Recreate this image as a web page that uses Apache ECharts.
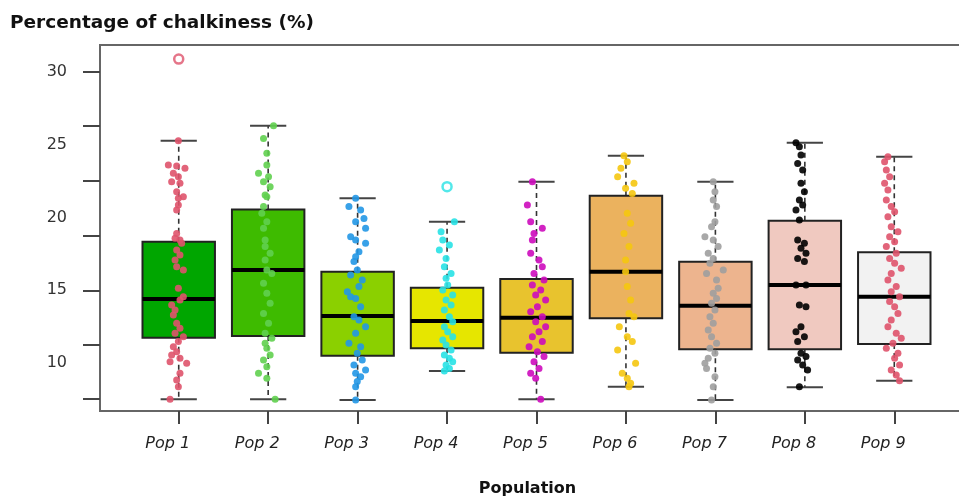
<!DOCTYPE html>
<html>
<head>
<meta charset="utf-8">
<script src="https://cdn.jsdelivr.net/npm/echarts@6/dist/echarts.min.js"></script>
<style>html,body{margin:0;padding:0;background:#fff;}#c{width:959px;height:496px;}</style>
</head>
<body>
<div id="c"></div>
<script>
// ---- data ----
const categories = ['Pop 1','Pop 2','Pop 3','Pop 4','Pop 5','Pop 6','Pop 7','Pop 8','Pop 9'];
const whiskerLow  = [7.50, 7.50, 7.46, 9.45, 7.50, 8.37, 7.46, 8.33, 8.78];
const q1          = [11.74, 11.86, 10.50, 11.01, 10.71, 13.07, 10.94, 10.94, 11.31];
const medians     = [14.40, 16.39, 13.23, 12.89, 13.11, 16.28, 13.94, 15.36, 14.56];
const q3          = [18.34, 20.56, 16.28, 15.18, 15.77, 21.50, 16.96, 19.78, 17.61];
const whiskerHigh = [25.28, 26.31, 21.32, 19.71, 22.46, 24.25, 22.46, 25.14, 24.18];
const outliers = [[0, 30.89], [3, 22.12]]; // [category index, value]
const yTickValues = [7.53, 11.24, 14.95, 18.73, 22.51, 26.29, 30];
const yLabelValues = [10, 15, 20, 25, 30];

// jittered observations: [value, horizontal jitter in category units]
const pop1 = [[25.28,-0.004],[23.61,-0.116],[23.54,-0.023],[23.38,0.07],[23.04,-0.06],[22.81,-0.004],[22.46,-0.079],[22.35,0.014],[21.78,-0.023],[21.43,0.052],[21.32,-0.004],[20.86,-0.004],[20.52,-0.023],[18.91,-0.023],[18.57,-0.041],[18.45,0.014],[18.23,0.033],[17.77,-0.023],[17.42,0.014],[17.08,-0.041],[16.62,-0.023],[16.39,0.052],[15.13,-0.004],[14.56,0.052],[14.33,0.014],[13.99,-0.079],[13.64,-0.041],[13.30,-0.06],[12.73,-0.023],[12.38,0.014],[12.04,-0.041],[11.81,0.052],[11.47,-0.004],[11.12,-0.06],[10.78,-0.023],[10.55,-0.079],[10.32,0.014],[10.09,-0.097],[9.98,0.089],[9.29,0.014],[8.83,-0.023],[8.37,-0.004],[7.50,-0.097]];
const pop2 = [[26.31,0.06],[25.44,-0.052],[24.41,-0.015],[23.61,-0.015],[23.04,-0.108],[22.81,0.004],[22.46,-0.052],[22.12,0.022],[21.55,-0.034],[21.43,-0.015],[20.75,-0.052],[20.29,-0.071],[19.71,-0.015],[19.26,-0.052],[18.45,-0.034],[18.00,-0.034],[17.54,0.022],[17.08,-0.034],[16.39,-0.015],[16.16,0.041],[15.48,-0.052],[14.79,-0.015],[14.10,0.022],[13.41,-0.052],[12.73,0.004],[12.04,-0.034],[11.70,0.041],[11.35,-0.034],[11.01,-0.015],[10.55,0.022],[10.21,-0.052],[9.75,-0.015],[9.29,-0.108],[8.95,-0.015],[7.50,0.078]];
const pop3 = [[21.32,-0.022],[20.75,-0.097],[20.52,0.034],[19.94,0.071],[19.71,-0.022],[19.26,0.089],[18.68,-0.078],[18.45,-0.022],[18.23,0.089],[17.65,0.015],[17.31,-0.022],[16.97,-0.041],[16.39,-0.004],[16.05,-0.078],[15.71,0.052],[15.25,0.015],[14.90,-0.115],[14.56,-0.078],[14.44,-0.022],[13.87,0.034],[13.18,-0.041],[12.96,0.015],[12.50,0.089],[12.04,-0.022],[11.35,-0.097],[11.12,0.034],[10.67,-0.004],[10.21,0.052],[9.86,-0.041],[9.52,0.089],[9.29,-0.022],[9.06,0.034],[8.72,-0.004],[8.37,-0.022],[7.46,-0.022]];
const pop4 = [[19.71,0.082],[19.03,-0.067],[18.45,-0.048],[18.11,0.026],[17.77,-0.086],[17.19,-0.011],[16.62,-0.03],[16.16,0.045],[15.82,-0.011],[15.36,0.007],[15.02,-0.048],[14.67,0.063],[14.33,-0.011],[13.99,0.045],[13.64,-0.03],[13.18,0.026],[12.84,0.063],[12.50,-0.03],[12.15,0.007],[11.81,0.063],[11.58,-0.048],[11.24,-0.011],[10.89,0.045],[10.55,-0.03],[10.32,0.026],[10.09,0.063],[9.86,-0.011],[9.63,0.026],[9.45,-0.03]];
const pop5 = [[22.46,-0.046],[20.86,-0.102],[19.71,-0.065],[19.26,0.065],[18.91,-0.028],[18.45,-0.046],[17.54,-0.065],[17.08,0.028],[16.62,0.065],[16.16,-0.028],[15.71,0.084],[15.36,-0.046],[15.02,0.047],[14.67,-0.009],[14.33,0.102],[13.87,0.01],[13.53,-0.065],[13.18,0.065],[12.84,-0.009],[12.50,0.102],[12.15,0.028],[11.81,-0.046],[11.47,0.065],[11.12,-0.083],[10.78,0.01],[10.44,0.084],[10.09,-0.028],[9.63,0.028],[9.29,-0.065],[8.95,-0.009],[7.50,0.047]];
const pop6 = [[24.25,-0.022],[23.84,0.015],[23.38,-0.056],[22.81,-0.093],[22.35,0.09],[22.01,-0.004],[21.66,0.071],[20.29,0.015],[19.60,0.052],[18.91,-0.022],[18.00,0.034],[17.08,-0.004],[16.28,-0.004],[15.25,0.015],[14.33,0.052],[13.41,0.034],[13.18,0.09],[12.50,-0.074],[11.81,0.015],[11.47,0.071],[10.89,-0.093],[9.98,0.108],[9.29,-0.041],[8.95,0.015],[8.60,0.052],[8.37,0.034]];
const pop7 = [[22.46,-0.024],[21.78,-0.005],[21.20,-0.024],[20.75,0.013],[19.71,-0.005],[19.37,-0.043],[18.68,-0.117],[18.45,-0.024],[18.00,0.031],[17.54,-0.08],[17.19,-0.024],[16.85,-0.061],[16.39,0.088],[16.16,-0.099],[15.71,0.013],[15.13,0.031],[14.79,-0.024],[14.44,0.013],[14.10,-0.043],[13.64,-0.005],[13.18,-0.061],[12.73,-0.024],[12.27,-0.08],[11.81,-0.043],[11.35,0.013],[11.01,-0.061],[10.67,-0.005],[10.32,-0.08],[9.98,-0.117],[9.63,-0.099],[9.06,-0.005],[8.37,-0.024],[7.46,-0.043]];
const pop8 = [[25.14,-0.099],[24.87,-0.061],[24.30,-0.043],[23.72,-0.08],[23.27,-0.024],[22.35,-0.043],[21.78,-0.005],[21.20,-0.061],[20.86,-0.024],[20.52,-0.099],[19.83,-0.061],[18.45,-0.08],[18.23,-0.005],[17.88,-0.043],[17.54,0.013],[17.19,-0.08],[16.97,-0.005],[15.36,-0.099],[15.36,0.013],[13.99,-0.061],[13.87,0.013],[12.50,-0.043],[12.15,-0.099],[11.81,-0.005],[11.47,-0.08],[10.67,-0.043],[10.44,0.013],[10.21,-0.08],[9.86,-0.024],[9.52,0.031],[8.37,-0.061]];
const pop9 = [[24.18,-0.071],[23.84,-0.108],[23.27,-0.089],[22.81,-0.052],[22.35,-0.108],[21.89,-0.071],[21.20,-0.089],[20.75,-0.034],[20.40,0.004],[20.06,-0.071],[19.37,-0.034],[19.03,0.041],[18.68,-0.052],[18.34,0.004],[18.00,-0.089],[17.54,0.022],[17.19,-0.052],[16.85,0.004],[16.51,0.078],[16.16,-0.034],[15.71,-0.071],[15.25,0.022],[14.90,-0.034],[14.56,0.059],[14.22,-0.052],[13.87,0.004],[13.41,0.041],[12.96,-0.034],[12.50,-0.071],[12.04,0.022],[11.70,0.078],[11.35,-0.015],[11.01,-0.089],[10.67,0.041],[10.32,0.004],[9.86,0.059],[9.52,-0.034],[9.17,0.022],[8.78,0.059]];
const popPoints = [pop1, pop2, pop3, pop4, pop5, pop6, pop7, pop8, pop9];

// ---- styling ----
const boxColors = ['#00A600','#3EBB00','#8BD000','#E6E600','#E8C32E','#EBB25E','#EDB48E','#F0C9C0','#F2F2F2'];
const pointColors = ['#DF536B','#61D04F','#2297E6','#28E2E5','#CD0BBC','#F5C710','#9E9E9E','#000000','#DF536B'];
const yMin = 6.70, yMax = 31.86;
const font = 'DejaVu Sans';

const chart = echarts.init(document.getElementById('c'), null, {renderer: 'canvas'});

const boxData = categories.map((c, i) => [i, whiskerLow[i], q1[i], medians[i], q3[i], whiskerHigh[i]]);

const series = [{
  type: 'custom',
  xAxisIndex: 1, yAxisIndex: 1,
  z: 2,
  data: boxData,
  renderItem: function (params, api) {
    const i = api.value(0);
    const lo = api.coord([i, api.value(1)]);
    const b = api.coord([i, api.value(2)]);
    const m = api.coord([i, api.value(3)]);
    const t = api.coord([i, api.value(4)]);
    const hi = api.coord([i, api.value(5)]);
    const band = api.size([1, 0])[0];
    const w = band * 0.81;
    const x = lo[0];
    const dash = {stroke: '#333', lineWidth: 1.6, lineDash: [5, 4]};
    const cap = {stroke: '#444', lineWidth: 2};
    return {type: 'group', children: [
      {type: 'line', shape: {x1: x, y1: b[1], x2: x, y2: lo[1]}, style: dash},
      {type: 'line', shape: {x1: x, y1: t[1], x2: x, y2: hi[1]}, style: dash},
      {type: 'line', shape: {x1: x - w / 4, y1: lo[1], x2: x + w / 4, y2: lo[1]}, style: cap},
      {type: 'line', shape: {x1: x - w / 4, y1: hi[1], x2: x + w / 4, y2: hi[1]}, style: cap},
      {type: 'rect', shape: {x: x - w / 2, y: t[1], width: w, height: b[1] - t[1]}, style: {fill: boxColors[i], stroke: '#222', lineWidth: 2}},
      {type: 'line', shape: {x1: x - w / 2, y1: m[1], x2: x + w / 2, y2: m[1]}, style: {stroke: '#000', lineWidth: 4}}
    ]};
  }
}];

popPoints.forEach((pts, i) => {
  series.push({
    type: 'scatter',
    xAxisIndex: 2, yAxisIndex: 1,
    z: 3,
    symbol: 'circle',
    symbolSize: 7,
    itemStyle: {color: pointColors[i], opacity: 0.9},
    data: pts.map(p => [i + p[1], p[0]])
  });
});

series.push({
  type: 'scatter',
  xAxisIndex: 2, yAxisIndex: 1,
  z: 4,
  symbol: 'circle',
  symbolSize: 9,
  data: outliers.map(o => ({value: [o[0], o[1]], itemStyle: {color: '#fff', borderColor: pointColors[o[0]], borderWidth: 2.5}}))
});

chart.setOption({
  animation: false,
  backgroundColor: '#fff',
  title: {
    text: 'Percentage of chalkiness (%)',
    left: 10, top: 14, padding: 0,
    textStyle: {fontFamily: font, fontSize: 18.5, fontWeight: 'bold', color: '#111'}
  },
  grid: [
    {left: 100, top: 45, width: 870, height: 366, show: true, borderColor: '#666', borderWidth: 2, backgroundColor: 'transparent', containLabel: false, outerBoundsMode: 'none'},
    {left: 134, top: 45, width: 805, height: 366, containLabel: false, outerBoundsMode: 'none'}
  ],
  xAxis: [
    {gridIndex: 0, type: 'value', min: 0, max: 1, show: false},
    {
      gridIndex: 1, type: 'category', data: categories, boundaryGap: true,
      axisLine: {show: false},
      axisTick: {show: true, alignWithLabel: true, length: 13, lineStyle: {color: '#444', width: 2}},
      axisLabel: {fontFamily: font, fontStyle: 'italic', fontSize: 16, color: '#222', margin: 25, padding: [0, 22, 0, 0]},
      name: 'Population', nameLocation: 'middle', nameGap: 70,
      nameTextStyle: {fontFamily: font, fontWeight: 'bold', fontSize: 16, color: '#111', padding: [0, 18, 0, 0]}
    },
    {gridIndex: 1, type: 'value', min: -0.5, max: 8.5, show: false}
  ],
  yAxis: [
    {
      gridIndex: 0, type: 'value', min: yMin, max: yMax,
      axisLine: {show: false},
      splitLine: {show: false},
      axisTick: {show: true, length: 17, customValues: yTickValues, lineStyle: {color: '#444', width: 2}},
      axisLabel: {show: true, customValues: yLabelValues, fontFamily: font, fontSize: 16, color: '#333', margin: 33}
    },
    {gridIndex: 1, type: 'value', min: yMin, max: yMax, show: false}
  ],
  series: series
});
</script>
</body>
</html>
